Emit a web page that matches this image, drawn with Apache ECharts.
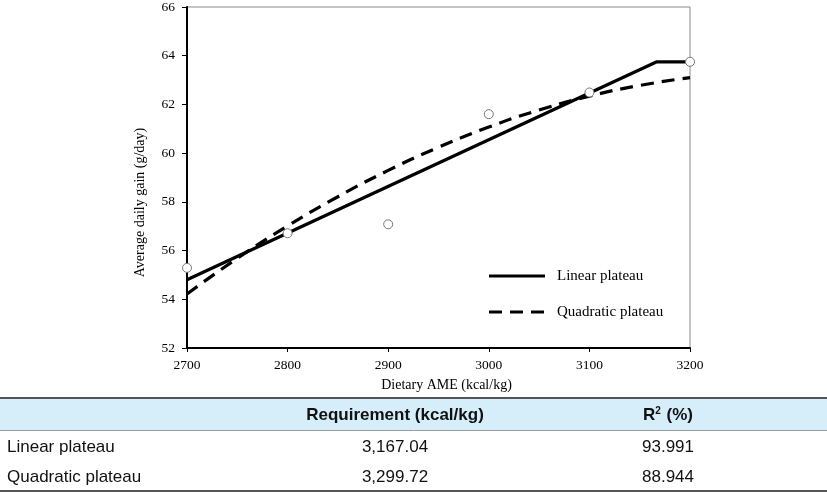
<!DOCTYPE html>
<html>
<head>
<meta charset="utf-8">
<script src="https://cdn.jsdelivr.net/npm/echarts@6/dist/echarts.min.js"></script>
<style>
html,body{margin:0;padding:0;background:#fff;}
#chart{width:827px;height:495px;}
</style>
</head>
<body>
<div id="chart"></div>
<script>
// ---- data ----
const ameLevels = [2700, 2800, 2900, 3000, 3100, 3200];
const observedGain = [55.29, 56.71, 57.08, 61.60, 62.49, 63.75];

const linearX = [2700, 3167.04, 3200];
const linearY = [54.8, 63.75, 63.75];

const quadX = [2700, 2750, 2800, 2850, 2900, 2950, 3000, 3050, 3100, 3150, 3200];
const quadY = [54.22, 55.68, 57.01, 58.21, 59.29, 60.24, 61.07, 61.77, 62.34, 62.78, 63.10];

const seriesNames = ['Linear plateau', 'Quadratic plateau'];
const xTickLabels = ['2700', '2800', '2900', '3000', '3100', '3200'];
const yTickLabels = ['52', '54', '56', '58', '60', '62', '64', '66'];

const tableHeader = ['', 'Requirement (kcal/kg)', 'R{sup|2} (%)'];
const modelNames = ['Linear plateau', 'Quadratic plateau'];
const requirements = ['3,167.04', '3,299.72'];
const rSquared = ['93.991', '88.944'];

// ---- chart ----
const zip = (xs, ys) => xs.map((x, i) => [x, ys[i]]);
const serif = '"Liberation Serif", "Times New Roman", serif';
const sans = '"Liberation Sans", Arial, sans-serif';

const G = {left: 187, top: 5, width: 503, height: 343};

const graphics = [];
// legend
const legX = 489, legW = 56;
const legY = [276, 312];
graphics.push({type: 'line', shape: {x1: legX, y1: legY[0], x2: legX + legW, y2: legY[0]},
  style: {stroke: '#000', lineWidth: 3.2}});
graphics.push({type: 'line', shape: {x1: legX, y1: legY[1], x2: legX + legW, y2: legY[1]},
  style: {stroke: '#000', lineWidth: 3.2, lineDash: [13, 8]}});
seriesNames.forEach((n, i) => {
  graphics.push({type: 'text', x: 557, y: legY[i], style: {text: n, font: '15px ' + serif,
    fill: '#000', textVerticalAlign: 'middle', textAlign: 'left'}});
});

// table
const tTop = 398, hdrBottom = 430, tBottom = 491;
graphics.push({type: 'rect', shape: {x: 0, y: tTop, width: 827, height: hdrBottom - tTop},
  style: {fill: '#d5eefa'}});
graphics.push({type: 'line', shape: {x1: 0, y1: tTop, x2: 827, y2: tTop}, style: {stroke: '#555', lineWidth: 2}});
graphics.push({type: 'line', shape: {x1: 0, y1: hdrBottom + 0.5, x2: 827, y2: hdrBottom + 0.5}, style: {stroke: '#9a9a9a', lineWidth: 1}});
graphics.push({type: 'line', shape: {x1: 0, y1: tBottom, x2: 827, y2: tBottom}, style: {stroke: '#555', lineWidth: 2}});

const colCenters = [395, 668];
const hdrY = 415;
[tableHeader[1], tableHeader[2]].forEach((h, i) => {
  graphics.push({type: 'text', x: colCenters[i], y: hdrY, style: {
    text: h, font: 'bold 17px ' + sans, fill: '#111', align: 'center', verticalAlign: 'middle',
    rich: {sup: {font: 'bold 10px ' + sans, fill: '#111', verticalAlign: 'top', padding: [0, 1, 8, 0]}}
  }});
});
const rowY = [447, 477];
modelNames.forEach((m, i) => {
  graphics.push({type: 'text', x: 7, y: rowY[i], style: {text: m, font: '17px ' + sans, fill: '#111',
    align: 'left', verticalAlign: 'middle'}});
  graphics.push({type: 'text', x: colCenters[0], y: rowY[i], style: {text: requirements[i], font: '17px ' + sans, fill: '#111',
    align: 'center', verticalAlign: 'middle'}});
  graphics.push({type: 'text', x: colCenters[1], y: rowY[i], style: {text: rSquared[i], font: '17px ' + sans, fill: '#111',
    align: 'center', verticalAlign: 'middle'}});
});

const chart = echarts.init(document.getElementById('chart'), null, {renderer: 'canvas'});
chart.setOption({
  backgroundColor: '#fff',
  animation: false,
  grid: Object.assign({show: true, borderColor: '#8a8a8a', borderWidth: 1, backgroundColor: 'transparent'}, G),
  xAxis: {
    type: 'value', min: 2700, max: 3200, interval: 100,
    name: 'Dietary AME (kcal/kg)', nameLocation: 'middle', nameGap: 30,
    nameTextStyle: {fontFamily: serif, fontSize: 14, color: '#000', padding: [0, 0, 0, 16]},
    axisLine: {onZero: false, lineStyle: {color: '#000', width: 2}},
    axisTick: {show: true, inside: false, length: 4, lineStyle: {color: '#000', width: 1}},
    axisLabel: {fontFamily: serif, fontSize: 13.5, color: '#000', margin: 10,
      formatter: v => xTickLabels[ameLevels.indexOf(v)] || ''},
    splitLine: {show: false}
  },
  yAxis: {
    type: 'value', min: 52, max: 66, interval: 2,
    name: 'Average daily gain (g/day)', nameLocation: 'middle', nameGap: 40, nameRotate: 90,
    nameTextStyle: {fontFamily: serif, fontSize: 14, color: '#000', padding: [0, 50, 0, 0]},
    axisLine: {onZero: false, lineStyle: {color: '#000', width: 2}},
    axisTick: {show: true, inside: false, length: 5, lineStyle: {color: '#000', width: 1}},
    axisLabel: {fontFamily: serif, fontSize: 13.5, color: '#000', margin: 12,
      formatter: v => yTickLabels[(v - 52) / 2] || ''},
    splitLine: {show: false}
  },
  series: [
    {name: seriesNames[0], type: 'line', data: zip(linearX, linearY), symbol: 'none', z: 3,
      lineStyle: {color: '#000', width: 3.2, type: 'solid', join: 'round'}},
    {name: seriesNames[1], type: 'line', data: zip(quadX, quadY), symbol: 'none', smooth: true, z: 3,
      lineStyle: {color: '#000', width: 3.2, type: [13, 8]}},
    {name: 'Observed', type: 'scatter', data: zip(ameLevels, observedGain), symbol: 'circle', symbolSize: 9,
      clip: false, z: 5,
      itemStyle: {color: '#fff', borderColor: '#777', borderWidth: 1, opacity: 1}}
  ],
  graphic: graphics
});
</script>
</body>
</html>
